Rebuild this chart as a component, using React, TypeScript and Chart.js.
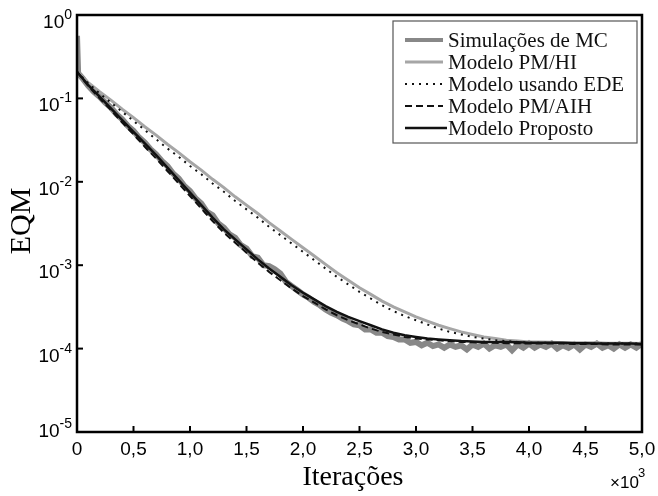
import React, { useEffect, useRef } from 'react';
import { Chart, registerables } from 'chart.js';
Chart.register(...registerables);

const seriesLabels = ['Simulações de MC', 'Modelo PM/HI', 'Modelo usando EDE', 'Modelo PM/AIH', 'Modelo Proposto'];

const modelIter = [0, 100, 200, 300, 400, 500, 600, 700, 800, 900, 1000, 1100, 1200, 1300, 1400, 1500, 1600, 1700, 1800, 1900, 2000, 2100, 2200, 2300, 2400, 2500, 2600, 2700, 2800, 2900, 3000, 3100, 3200, 3300, 3400, 3500, 3600, 3700, 3800, 3900, 4000, 4100, 4200, 4300, 4400, 4500, 4600, 4700, 4800, 4900, 5000];

const mcIter = [0, 10, 50, 100, 150, 200, 250, 300, 350, 400, 450, 500, 550, 600, 650, 700, 750, 800, 850, 900, 950, 1000, 1050, 1100, 1150, 1200, 1250, 1300, 1350, 1400, 1450, 1500, 1550, 1600, 1650, 1700, 1750, 1800, 1850, 1900, 1950, 2000, 2050, 2100, 2150, 2200, 2250, 2300, 2350, 2400, 2450, 2500, 2550, 2600, 2650, 2700, 2750, 2800, 2850, 2900, 2950, 3000, 3050, 3100, 3150, 3200, 3250, 3300, 3350, 3400, 3450, 3500, 3550, 3600, 3650, 3700, 3750, 3800, 3850, 3900, 3950, 4000, 4050, 4100, 4150, 4200, 4250, 4300, 4350, 4400, 4450, 4500, 4550, 4600, 4650, 4700, 4750, 4800, 4850, 4900, 4950, 5000];

// log10(EQM)
const mcLog10 = [-0.25, -0.70, -0.76, -0.85, -0.92, -0.98, -1.05, -1.11, -1.19, -1.25, -1.33, -1.39, -1.47, -1.53, -1.61, -1.67, -1.75, -1.81, -1.90, -1.96, -2.05, -2.11, -2.20, -2.26, -2.36, -2.40, -2.50, -2.55, -2.63, -2.67, -2.76, -2.80, -2.89, -2.91, -3.00, -3.01, -3.05, -3.10, -3.20, -3.25, -3.30, -3.35, -3.39, -3.44, -3.48, -3.53, -3.57, -3.60, -3.64, -3.67, -3.71, -3.72, -3.77, -3.77, -3.81, -3.81, -3.85, -3.86, -3.89, -3.89, -3.93, -3.92, -3.96, -3.93, -3.97, -3.95, -3.99, -3.95, -3.98, -3.96, -4.01, -3.95, -3.98, -3.94, -4.00, -3.96, -3.98, -3.95, -4.02, -3.95, -3.99, -3.94, -3.99, -3.95, -3.98, -3.94, -4.00, -3.96, -3.99, -3.95, -4.01, -3.95, -3.98, -3.94, -3.99, -3.96, -4.00, -3.95, -3.99, -3.95, -3.99, -3.94];

const pmhiLog10 = [-0.68, -0.81, -0.92, -1.02, -1.13, -1.23, -1.34, -1.44, -1.55, -1.65, -1.76, -1.86, -1.97, -2.07, -2.18, -2.28, -2.38, -2.49, -2.59, -2.69, -2.79, -2.89, -2.99, -3.09, -3.18, -3.27, -3.35, -3.43, -3.50, -3.56, -3.62, -3.67, -3.72, -3.76, -3.80, -3.83, -3.86, -3.88, -3.90, -3.91, -3.92, -3.92, -3.925, -3.93, -3.93, -3.93, -3.93, -3.935, -3.935, -3.935, -3.94];

const edeLog10 = [-0.68, -0.82, -0.94, -1.05, -1.16, -1.27, -1.38, -1.49, -1.60, -1.70, -1.81, -1.91, -2.02, -2.12, -2.23, -2.33, -2.43, -2.54, -2.64, -2.74, -2.84, -2.94, -3.04, -3.14, -3.23, -3.32, -3.40, -3.48, -3.55, -3.61, -3.66, -3.71, -3.76, -3.80, -3.83, -3.86, -3.88, -3.90, -3.91, -3.92, -3.93, -3.93, -3.93, -3.935, -3.935, -3.935, -3.94, -3.94, -3.94, -3.94, -3.94];

const aihLog10 = [-0.68, -0.85, -1.00, -1.14, -1.29, -1.43, -1.58, -1.72, -1.87, -2.02, -2.17, -2.32, -2.47, -2.61, -2.73, -2.85, -2.97, -3.08, -3.18, -3.28, -3.37, -3.45, -3.53, -3.60, -3.66, -3.71, -3.76, -3.80, -3.83, -3.86, -3.88, -3.89, -3.90, -3.91, -3.92, -3.925, -3.93, -3.93, -3.935, -3.935, -3.94, -3.94, -3.94, -3.94, -3.945, -3.945, -3.945, -3.95, -3.95, -3.95, -3.95];

const propLog10 = [-0.68, -0.84, -0.98, -1.12, -1.26, -1.40, -1.54, -1.68, -1.83, -1.98, -2.13, -2.28, -2.43, -2.57, -2.69, -2.81, -2.93, -3.04, -3.14, -3.24, -3.33, -3.41, -3.49, -3.56, -3.62, -3.67, -3.72, -3.77, -3.81, -3.84, -3.86, -3.88, -3.89, -3.90, -3.91, -3.915, -3.92, -3.92, -3.92, -3.925, -3.93, -3.93, -3.93, -3.93, -3.935, -3.935, -3.94, -3.94, -3.94, -3.94, -3.945];

const xTickValues = [0, 500, 1000, 1500, 2000, 2500, 3000, 3500, 4000, 4500, 5000];
const xTickLabels = ['0', '0,5', '1,0', '1,5', '2,0', '2,5', '3,0', '3,5', '4,0', '4,5', '5,0'];
const yTickValues = [1, 0.1, 0.01, 0.001, 0.0001, 0.00001];
const yTickExponents = ['0', '-1', '-2', '-3', '-4', '-5'];

const colors = ['#888888', '#a6a6a6', '#111111', '#111111', '#111111'];
const widths = [6, 3, 2, 2, 2.5];
const dashes: number[][] = [[], [], [2, 5], [7, 4], []];

function toPoints(xs: number[], logs: number[]) {
  return xs.map((x, i) => ({ x, y: Math.pow(10, logs[i]) }));
}

const decorPlugin = {
  id: 'decor',
  afterDraw(chart: any) {
    const ctx = chart.ctx as CanvasRenderingContext2D;
    const { left, right, top, bottom } = chart.chartArea;
    const xs = chart.scales.x;
    const ys = chart.scales.y;
    ctx.save();
    ctx.strokeStyle = '#000';
    ctx.lineWidth = 2.5;
    ctx.setLineDash([]);
    ctx.strokeRect(left, top, right - left, bottom - top);
    ctx.lineWidth = 2;
    ctx.fillStyle = '#000';
    ctx.font = '19px "Liberation Sans", Arial, sans-serif';
    ctx.textAlign = 'center';
    ctx.textBaseline = 'middle';
    xTickValues.forEach((v, i) => {
      const px = xs.getPixelForValue(v);
      ctx.beginPath();
      ctx.moveTo(px, bottom);
      ctx.lineTo(px, bottom - 6);
      ctx.stroke();
      ctx.fillText(xTickLabels[i], px, 450);
    });
    yTickValues.forEach((v, i) => {
      const py = ys.getPixelForValue(v);
      ctx.beginPath();
      ctx.moveTo(left, py);
      ctx.lineTo(left + 6, py);
      ctx.stroke();
      const rightEdge = left - 5;
      ctx.textBaseline = 'alphabetic';
      ctx.textAlign = 'right';
      ctx.font = '14px "Liberation Sans", Arial, sans-serif';
      const ew = ctx.measureText(yTickExponents[i]).width;
      const base = Math.min(py + 13, bottom + 5);
      ctx.fillText(yTickExponents[i], rightEdge, base - 9);
      ctx.font = '19px "Liberation Sans", Arial, sans-serif';
      ctx.fillText('10', rightEdge - ew, base);
    });
    ctx.font = '30px "Liberation Serif", "Times New Roman", serif';
    ctx.textAlign = 'center';
    ctx.textBaseline = 'middle';
    ctx.save();
    ctx.translate(22, 221);
    ctx.rotate(-Math.PI / 2);
    ctx.fillText('EQM', 0, 0);
    ctx.restore();
    ctx.font = '28px "Liberation Serif", "Times New Roman", serif';
    ctx.fillText('Iterações', 353, 478);
    ctx.textAlign = 'left';
    ctx.textBaseline = 'alphabetic';
    ctx.font = '17px "Liberation Sans", Arial, sans-serif';
    ctx.fillText('×10', 610, 488);
    ctx.font = '13px "Liberation Sans", Arial, sans-serif';
    ctx.fillText('3', 638, 477);
    const lx0 = 393, ly0 = 21, lx1 = right - 5, ly1 = 143;
    ctx.fillStyle = '#fff';
    ctx.fillRect(lx0, ly0, lx1 - lx0, ly1 - ly0);
    ctx.strokeStyle = '#555';
    ctx.lineWidth = 1.2;
    ctx.strokeRect(lx0, ly0, lx1 - lx0, ly1 - ly0);
    ctx.font = '21px "Liberation Serif", "Times New Roman", serif';
    ctx.textBaseline = 'middle';
    ctx.textAlign = 'left';
    chart.data.datasets.forEach((ds: any, i: number) => {
      const cy = 40 + i * 22;
      ctx.strokeStyle = colors[i];
      ctx.lineWidth = i === 0 ? 4 : widths[i];
      ctx.setLineDash(dashes[i]);
      ctx.beginPath();
      ctx.moveTo(405, cy);
      ctx.lineTo(i === 4 ? 447 : 443, cy);
      ctx.stroke();
      ctx.setLineDash([]);
      ctx.fillStyle = '#111';
      ctx.fillText(ds.label, 448, cy + 1);
    });
    ctx.restore();
  },
};

export default function App() {
  const ref = useRef<HTMLCanvasElement | null>(null);
  useEffect(() => {
    if (!ref.current) return;
    const series = [
      toPoints(mcIter, mcLog10),
      toPoints(modelIter, pmhiLog10),
      toPoints(modelIter, edeLog10),
      toPoints(modelIter, aihLog10),
      toPoints(modelIter, propLog10),
    ];
    const chart = new Chart(ref.current, {
      type: 'line',
      data: {
        datasets: series.map((data, i) => ({
          label: seriesLabels[i],
          data,
          borderColor: colors[i],
          borderWidth: widths[i],
          borderDash: dashes[i],
          pointRadius: 0,
          tension: 0,
          fill: false,
          order: 5 - i,
        })),
      },
      options: {
        responsive: false,
        animation: false,
        layout: { padding: { left: 0, top: 15, right: 16, bottom: 0 } },
        plugins: { legend: { display: false }, tooltip: { enabled: false } },
        scales: {
          x: {
            type: 'linear',
            min: 0,
            max: 5000,
            grid: { display: false },
            border: { display: false },
            ticks: { display: false },
            afterFit: (s: any) => { s.height = 64; },
          },
          y: {
            type: 'logarithmic',
            min: 0.00001,
            max: 1,
            grid: { display: false },
            border: { display: false },
            ticks: { display: false },
            afterFit: (s: any) => { s.width = 77; },
          },
        },
      },
      plugins: [decorPlugin],
    } as any);
    return () => chart.destroy();
  }, []);
  return (
    <div style={{ position: 'absolute', left: 0, top: 0, width: 658, height: 496, background: '#fff' }}>
      <canvas ref={ref} width={658} height={496} style={{ display: 'block' }} />
    </div>
  );
}
